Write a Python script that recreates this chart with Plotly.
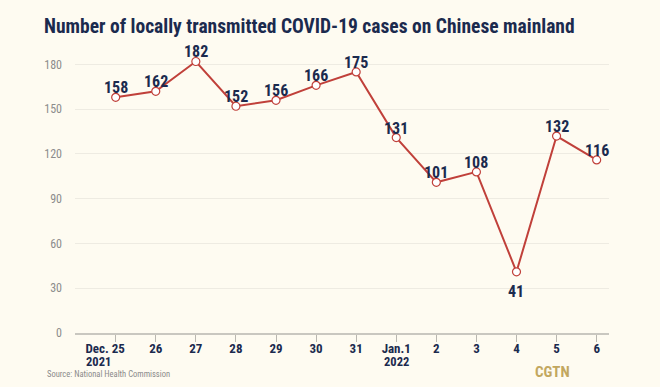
import plotly.graph_objects as go

categories = ["Dec. 25", "26", "27", "28", "29", "30", "31", "Jan.1", "2", "3", "4", "5", "6"]
years = {0: "2021", 7: "2022"}
cases = [158, 162, 182, 152, 156, 166, 175, 131, 101, 108, 41, 132, 116]
y_ticks = [0, 30, 60, 90, 120, 150, 180]

navy = "#1b2a4e"
red = "#c0403a"
bg = "#fefbf1"
cond = "Roboto Condensed, DejaVu Sans Condensed, sans-serif"

x_idx = list(range(len(categories)))
# first label is offset left in the original, pad it with non-breaking spaces
tick_text = [categories[0] + "\u00a0" * 7] + categories[1:]

fig = go.Figure()
fig.add_trace(go.Scatter(
    x=x_idx, y=cases, mode="lines+markers",
    line=dict(color=red, width=2),
    marker=dict(size=8, color="white", line=dict(color=red, width=1.2)),
    cliponaxis=False, hoverinfo="skip",
))

for i, v in enumerate(cases):
    below = v < 60
    fig.add_annotation(x=i, y=v, text=str(v), showarrow=False,
                       yanchor="top" if below else "bottom",
                       yshift=-8 if below else -2,
                       font=dict(family=cond, size=16, color=navy, weight="bold"))

fig.update_layout(
    width=660, height=387,
    paper_bgcolor=bg, plot_bgcolor=bg,
    margin=dict(l=75, r=51, t=60, b=54),
    showlegend=False,
    title=dict(text="Number of locally transmitted COVID-19 cases on Chinese mainland",
               x=44/660, xanchor="left", y=1-26/387, yanchor="middle",
               font=dict(family=cond, size=19.5, color=navy, weight="bold")),
    xaxis=dict(range=[-1.015, 12.308], tickmode="array", tickvals=x_idx, ticktext=tick_text,
               showgrid=False, zeroline=False, showline=True, linecolor="#c9c7c0", linewidth=2,
               ticks="outside", ticklen=7, tickcolor="#b9b7b0", tickwidth=1, tickangle=0,
               tickfont=dict(family=cond, size=13, color=navy, weight="bold"),
               ticklabelstandoff=-5, automargin=False, fixedrange=True),
    yaxis=dict(range=[0, 183], tickmode="array", tickvals=y_ticks,
               showgrid=True, gridcolor="#eeebe2", gridwidth=1, zeroline=False,
               tickfont=dict(family=cond, size=12, color="#8c8c8c"),
               ticks="", ticklabelstandoff=12, automargin=False, fixedrange=True),
)

for i, yr in years.items():
    centered = i != 0
    fig.add_annotation(x=i, y=-28.5/273, xref="x", yref="paper", text=yr, showarrow=False,
                       xanchor="center" if centered else "left",
                       xshift=0 if centered else -32, yanchor="middle",
                       font=dict(family=cond, size=12.5, color=navy, weight="bold"))

fig.add_annotation(text="Source: National Health Commission", xref="paper", yref="paper",
                   x=-30/534, y=-40.5/273, xanchor="left", yanchor="middle", showarrow=False,
                   font=dict(family=cond, size=8.5, color="#8a8a8a"))
fig.add_annotation(text="CGTN", xref="paper", yref="paper",
                   x=477/534, y=-39/273, xanchor="center", yanchor="middle", showarrow=False,
                   font=dict(family=cond, size=15, color="#c2a75f", weight="bold"))

fig.write_html("out.html", config={"displayModeBar": False},
               post_script="document.body.style.margin='0';document.body.style.background='#fefbf1';")
